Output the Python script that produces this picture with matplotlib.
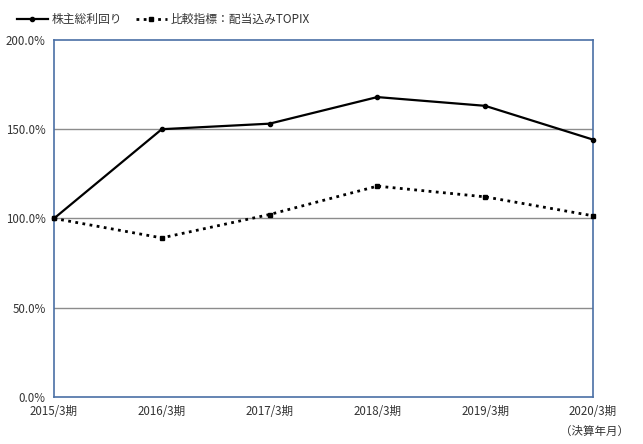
import matplotlib
matplotlib.use("Agg")
import matplotlib.pyplot as plt
from matplotlib.ticker import FuncFormatter

plt.rcParams['font.family'] = ['Noto Sans CJK JP', 'DejaVu Sans']

periods = ['2015/3期', '2016/3期', '2017/3期', '2018/3期', '2019/3期', '2020/3期']
tsr = [100.0, 150.0, 153.1, 168.0, 163.1, 144.2]
topix = [100.0, 89.1, 102.2, 118.1, 112.1, 101.5]
tsr_label = '株主総利回り'
topix_label = '比較指標：配当込みTOPIX'

frame_color = '#4a6fa5'
text_color = '#333333'

fig = plt.figure(figsize=(6.43, 4.44), dpi=100)
ax = fig.add_axes([0.084, 0.106, 0.838, 0.804])

x = list(range(len(periods)))
ax.plot(x, tsr, color='black', lw=1.6, marker='o', ms=3, label=tsr_label,
        clip_on=False, zorder=3)
ax.plot(x, topix, color='black', lw=2.0, ls=(0, (1, 1.6)), marker='s', ms=3.5,
        label=topix_label, clip_on=False, zorder=3)

ax.set_xlim(0, len(periods) - 1)
ax.set_ylim(0, 200)
ax.set_yticks([0, 50, 100, 150, 200])
ax.yaxis.set_major_formatter(FuncFormatter(lambda v, p: f'{v:.1f}%'))
ax.set_xticks(x)
ax.set_xticklabels(periods)
ax.tick_params(length=0, labelsize=8.3, colors=text_color)
ax.tick_params(axis='x', pad=6)
ax.tick_params(axis='y', pad=6)

for v in [50, 100, 150]:
    ax.axhline(v, color='#8c8c8c', lw=1.0, zorder=1)

for s in ax.spines.values():
    s.set_color(frame_color)
    s.set_linewidth(1.2)

fig.text(0.925, 0.02, '（決算年月）', fontsize=8.3, color=text_color, ha='center')

fig.legend(loc='upper left', bbox_to_anchor=(0.01, 0.995), ncol=2, frameon=False,
           fontsize=8.5, handlelength=2.6, columnspacing=1.2, handletextpad=0.3,
           labelcolor=text_color)

fig.savefig('out.png', dpi=100)
